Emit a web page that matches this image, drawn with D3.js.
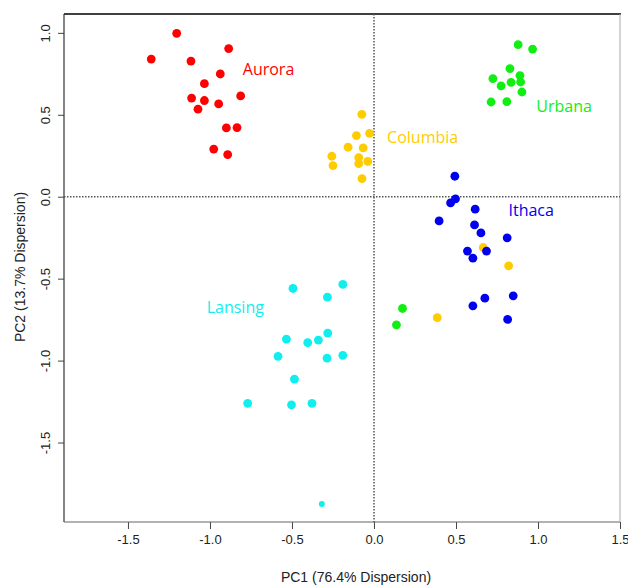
<!DOCTYPE html>
<html>
<head>
<meta charset="utf-8">
<script src="https://cdn.jsdelivr.net/npm/d3@7"></script>
<style>
  body { margin: 0; background: #fff; }
  .tick text { font-family: "Liberation Sans", Arial, sans-serif; font-size: 13px; fill: #222; }
  .grp { font-family: "Open Sans", "Noto Sans", sans-serif; font-size: 16px; }
  .ttl { font-family: "Liberation Sans", Arial, sans-serif; font-size: 14px; fill: #222; }
</style>
</head>
<body>
<script>
    // PCA scores, one pair of arrays per site
    var auroraX = [-1.203, -1.358, -1.116, -0.886, -0.937, -1.034, -1.112, -1.034, -1.073, -0.947, -0.813, -0.900, -0.835, -0.977, -0.892];
    var auroraY = [0.997, 0.840, 0.828, 0.904, 0.749, 0.690, 0.602, 0.587, 0.534, 0.566, 0.615, 0.420, 0.422, 0.291, 0.257];

    var columbiaX = [-0.074, -0.107, -0.027, -0.158, -0.066, -0.257, -0.250, -0.093, -0.093, -0.038, -0.073, 0.666, 0.821, 0.386];
    var columbiaY = [0.503, 0.373, 0.387, 0.302, 0.298, 0.247, 0.190, 0.239, 0.202, 0.215, 0.111, -0.310, -0.422, -0.738];

    var urbanaX = [0.879, 0.967, 0.829, 0.725, 0.890, 0.775, 0.836, 0.894, 0.902, 0.714, 0.810, 0.174, 0.137];
    var urbanaY = [0.928, 0.901, 0.782, 0.721, 0.739, 0.676, 0.698, 0.700, 0.639, 0.578, 0.580, -0.682, -0.782];

    var ithacaX = [0.493, 0.497, 0.467, 0.617, 0.397, 0.613, 0.652, 0.812, 0.570, 0.686, 0.603, 0.676, 0.849, 0.603, 0.815];
    var ithacaY = [0.125, -0.013, -0.038, -0.076, -0.148, -0.172, -0.221, -0.251, -0.332, -0.332, -0.375, -0.619, -0.605, -0.666, -0.749];

    var lansingX = [-0.494, -0.190, -0.284, -0.534, -0.404, -0.339, -0.282, -0.585, -0.286, -0.190, -0.485, -0.770, -0.503, -0.378];
    var lansingY = [-0.560, -0.535, -0.613, -0.869, -0.891, -0.875, -0.832, -0.974, -0.985, -0.968, -1.113, -1.261, -1.270, -1.261];

    // the lone small point near the bottom
    var extraX = [-0.318];
    var extraY = [-1.875];

    var xTicks = [-1.5, -1.0, -0.5, 0.0, 0.5, 1.0, 1.5];
    var yTicks = [-1.5, -1.0, -0.5, 0.0, 0.5, 1.0];

    var groups = [
        {name: "Aurora",   xs: auroraX,   ys: auroraY,   color: "#ff0000", lx: -0.80, ly: 0.74},
        {name: "Columbia", xs: columbiaX, ys: columbiaY, color: "#ffcc00", lx: 0.08,  ly: 0.33},
        {name: "Urbana",   xs: urbanaX,   ys: urbanaY,   color: "#11ee11", lx: 0.99,  ly: 0.52},
        {name: "Ithaca",   xs: ithacaX,   ys: ithacaY,   color: "#0000ee", lx: 0.82,  ly: -0.12},
        {name: "Lansing",  xs: lansingX,  ys: lansingY,  color: "#11eeee", lx: -1.02, ly: -0.71}
    ];

    var W = 628, H = 585;
    var svg = d3.select("body").append("svg")
        .attr("width", W)
        .attr("height", H);

    var x = d3.scaleLinear().domain([-1.89, 1.5]).range([64, 620]);
    var y = d3.scaleLinear().domain([-1.985, 1.115]).range([522, 14]);

    // plain hyphen minus, like the original
    var fmt = function(d) { return d.toFixed(1); };

    // axes
    svg.append("g")
        .attr("transform", "translate(0,522)")
        .call(d3.axisBottom(x).tickValues(xTicks).tickSize(7).tickPadding(6).tickFormat(fmt))
        .call(function(g) { g.select(".domain").remove(); })
        .call(function(g) { g.selectAll(".tick line").attr("stroke", "#444"); });

    var yAxis = svg.append("g")
        .attr("transform", "translate(64,0)")
        .call(d3.axisLeft(y).tickValues(yTicks).tickSize(6).tickFormat(fmt));
    yAxis.select(".domain").remove();
    yAxis.selectAll(".tick line").attr("stroke", "#444");
    yAxis.selectAll(".tick text")
        .attr("x", 0).attr("dy", 0)
        .attr("text-anchor", "middle")
        .attr("transform", "translate(-14,0) rotate(-90)");

    // frame
    svg.append("line").attr("x1", 64).attr("x2", 621).attr("y1", 14).attr("y2", 14)
        .attr("stroke", "#000").attr("stroke-width", 1.5);
    svg.append("line").attr("x1", 64).attr("x2", 64).attr("y1", 14).attr("y2", 522)
        .attr("stroke", "#333").attr("stroke-width", 1.2);
    svg.append("line").attr("x1", 64).attr("x2", 620).attr("y1", 522).attr("y2", 522)
        .attr("stroke", "#666").attr("stroke-width", 1.2);
    svg.append("line").attr("x1", 620).attr("x2", 620).attr("y1", 14).attr("y2", 522)
        .attr("stroke", "#aaa").attr("stroke-width", 1);

    // dotted zero lines
    svg.append("line").attr("x1", 64).attr("x2", 620).attr("y1", y(0)).attr("y2", y(0))
        .attr("stroke", "#555").attr("stroke-width", 1.5).attr("stroke-dasharray", "1.5,1.5");
    svg.append("line").attr("x1", x(0)).attr("x2", x(0)).attr("y1", 14).attr("y2", 522)
        .attr("stroke", "#555").attr("stroke-width", 1.5).attr("stroke-dasharray", "1.5,1.5");

    // points
    groups.forEach(function(g) {
        svg.selectAll(null)
            .data(d3.range(g.xs.length))
            .join("circle")
                .attr("cx", function(i) { return x(g.xs[i]); })
                .attr("cy", function(i) { return y(g.ys[i]); })
                .attr("r", 4.4)
                .style("fill", g.color);
        svg.append("text")
            .attr("class", "grp")
            .attr("x", x(g.lx))
            .attr("y", y(g.ly))
            .style("fill", g.color)
            .text(g.name);
    });

    svg.selectAll(null)
        .data(d3.range(extraX.length))
        .join("circle")
            .attr("cx", function(i) { return x(extraX[i]); })
            .attr("cy", function(i) { return y(extraY[i]); })
            .attr("r", 3)
            .style("fill", "#11eeee");

    // axis titles
    svg.append("text").attr("class", "ttl")
        .attr("x", 356).attr("y", 582)
        .attr("text-anchor", "middle")
        .text("PC1 (76.4% Dispersion)");
    svg.append("text").attr("class", "ttl")
        .attr("transform", "translate(25,267) rotate(-90)")
        .attr("text-anchor", "middle")
        .text("PC2 (13.7% Dispersion)");
</script>
</body>
</html>
